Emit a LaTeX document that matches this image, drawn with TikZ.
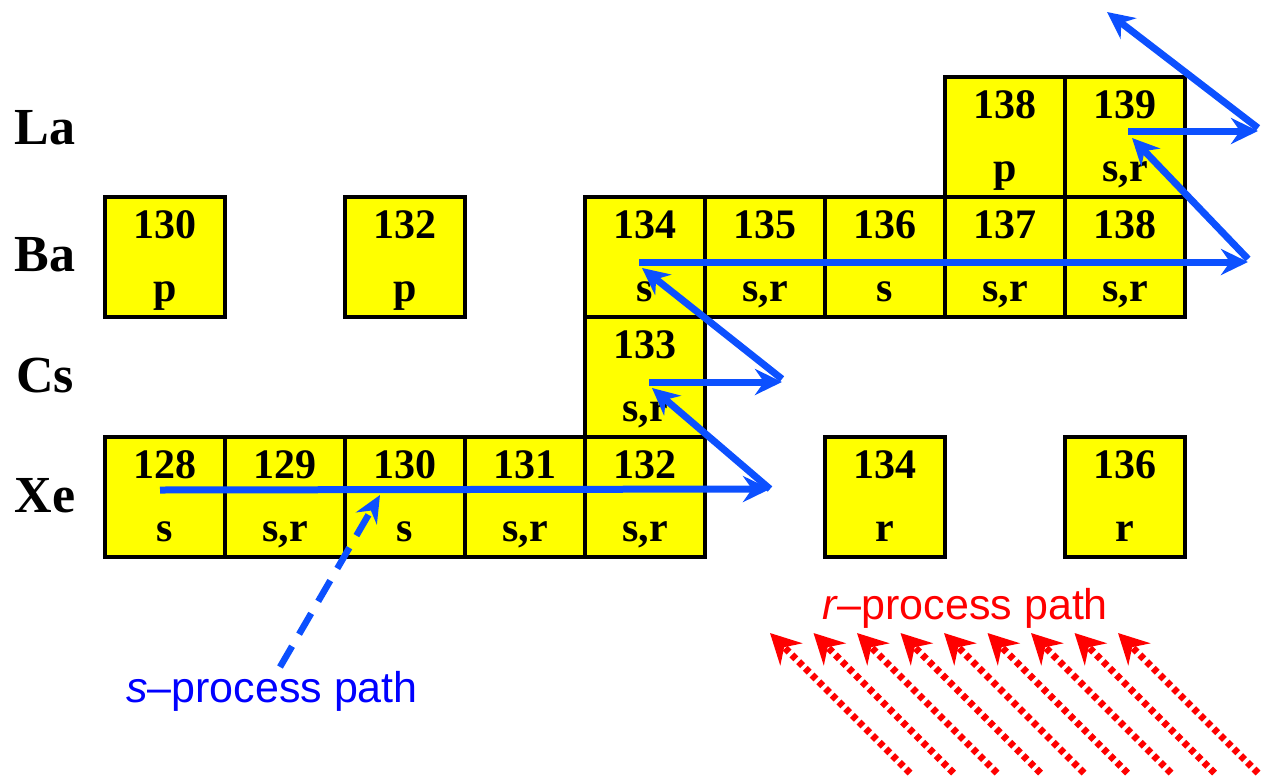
\documentclass[tikz,border=0pt]{standalone}
\usepackage{fontspec}
\setmainfont{Liberation Serif}
\newfontfamily\arialf{Liberation Sans}
\usetikzlibrary{arrows.meta,calc}
\definecolor{cellyellow}{RGB}{255,255,0}
\definecolor{pathblue}{RGB}{12,80,255}
\definecolor{textblue}{RGB}{0,0,255}
\definecolor{pathred}{RGB}{255,0,0}
\tikzset{
  cellbox/.style={draw=black, line width=4pt, fill=cellyellow, minimum width=120pt,
    minimum height=120pt, inner sep=0pt, outer sep=0pt},
  numtxt/.style={font=\fontsize{42}{42}\selectfont\bfseries, inner sep=0pt, anchor=base},
  rowlab/.style={font=\fontsize{52}{52}\selectfont\bfseries, inner sep=0pt},
  sarrow/.style={draw=pathblue, line width=7pt,
    -{Stealth[length=27pt,width=26pt,inset=9pt]}},
  sdash/.style={draw=pathblue, line width=6.5pt, dash pattern=on 24pt off 14pt,
    -{Stealth[length=27pt,width=24pt,inset=9pt]}},
  rarrow/.style={draw=pathred, line width=7pt, dash pattern=on 5.5pt off 4pt,
    -{Stealth[length=30pt,width=31pt,inset=10pt]}},
  proclab/.style={font=\arialf\fontsize{43}{43}\selectfont, inner sep=0pt, anchor=base},
}
\newcommand\nuc[5]{%
  \node[cellbox] (#1) at ({165+120*#2},{#3+60}) {};
  \node[numtxt] (#1m) at ($(#1.north)+(0,41)$) {#4};
  \node[numtxt] (#1l) at ($(#1.north)+(0,104)$) {#5};
}
\begin{document}
\begin{tikzpicture}[x=1pt,y=-1pt]
\useasboundingbox (0,0) rectangle (1267,780);
% row labels
\node[rowlab] (lblLa) at (45,128) {La};
\node[rowlab] (lblBa) at (45,255) {Ba};
\node[rowlab] (lblCs) at (45,376) {Cs};
\node[rowlab] (lblXe) at (45,496) {Xe};
% La
\nuc{La138}{7}{77}{138}{p}
\nuc{La139}{8}{77}{139}{s,r}
% Ba
\nuc{Ba130}{0}{197}{130}{p}
\nuc{Ba132}{2}{197}{132}{p}
\nuc{Ba134}{4}{197}{134}{s}
\nuc{Ba135}{5}{197}{135}{s,r}
\nuc{Ba136}{6}{197}{136}{s}
\nuc{Ba137}{7}{197}{137}{s,r}
\nuc{Ba138}{8}{197}{138}{s,r}
% Cs
\nuc{Cs133}{4}{317}{133}{s,r}
% Xe
\nuc{Xe128}{0}{437}{128}{s}
\nuc{Xe129}{1}{437}{129}{s,r}
\nuc{Xe130}{2}{437}{130}{s}
\nuc{Xe131}{3}{437}{131}{s,r}
\nuc{Xe132}{4}{437}{132}{s,r}
\nuc{Xe134}{6}{437}{134}{r}
\nuc{Xe136}{8}{437}{136}{r}
% s-process path points
\coordinate (p1) at (160,490);
\coordinate (p2) at (770,489);
\coordinate (p3) at (652,388);
\coordinate (p3b) at (649,382);
\coordinate (p4) at (782,382);
\coordinate (p4b) at (782,379);
\coordinate (p5) at (642,268);
\coordinate (p5b) at (639,262);
\coordinate (p6) at (1248,262);
\coordinate (p6b) at (1248,259);
\coordinate (p7) at (1132,138);
\coordinate (p7b) at (1128,131);
\coordinate (p8) at (1258,131);
\coordinate (p8b) at (1258,128);
\coordinate (p9) at (1107,12);
\draw[sarrow] (p1) -- (p2);
\draw[sarrow] (p2) -- (p3);
\draw[sarrow] (p3b) -- (p4);
\draw[sarrow] (p4b) -- (p5);
\draw[sarrow] (p5b) -- (p6);
\draw[sarrow] (p6b) -- (p7);
\draw[sarrow] (p7b) -- (p8);
\draw[sarrow] (p8b) -- (p9);
% s-process label
\node[proclab, text=textblue] (slab) at (272,702) {\textit{s}–process path};
\coordinate (sfrom) at (280,667);
\coordinate (sto) at (380,495);
\draw[sdash] (sfrom) -- (sto);
% r-process label and arrows
\node[proclab, text=pathred] (rlab) at (965,619) {\textit{r}–process path};
\foreach \i in {0,...,8}{
  \coordinate (rs\i) at ({910+43.5*\i},773);
  \coordinate (rt\i) at ({770+43.5*\i},633);
  \draw[rarrow] (rs\i) -- (rt\i);
}
\end{tikzpicture}
\end{document}
